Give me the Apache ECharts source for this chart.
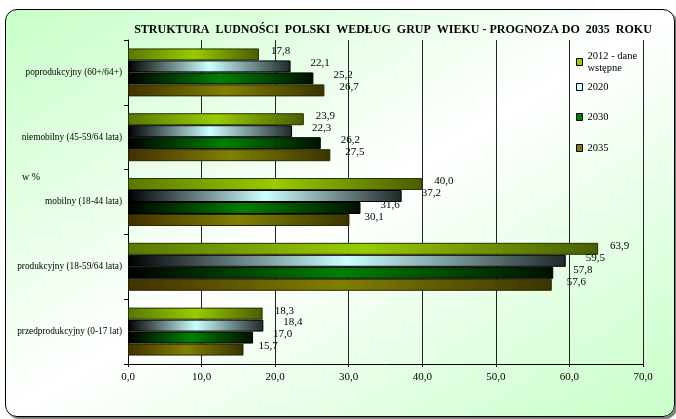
<!DOCTYPE html>
<html>
<head>
<meta charset="utf-8">
<script src="https://cdn.jsdelivr.net/npm/echarts@6/dist/echarts.min.js"></script>
<style>
html,body{margin:0;padding:0;background:#fff;}
#frame{position:absolute;left:5px;top:9px;width:668px;height:406px;border:1.5px solid #000;border-radius:12px;
background:linear-gradient(to bottom right,#c8ffc8 0%,#ffffff 50%,#c8ffc8 100%);box-shadow:2px 2px 1px #777;}
#chart{position:absolute;left:0;top:0;width:676px;height:419px;}
</style>
</head>
<body>
<div id="frame"></div>
<div id="chart"></div>
<script>
const categories = ['poprodukcyjny (60+/64+)', 'niemobilny (45-59/64 lata)', 'mobilny (18-44 lata)', 'produkcyjny (18-59/64 lata)', 'przedprodukcyjny (0-17 lat)'];
const seriesNames = ['2012 - dane\nwstępne', '2020', '2030', '2035'];
const v2012 = [17.8, 23.9, 40.0, 63.9, 18.3];
const v2020 = [22.1, 22.3, 37.2, 59.5, 18.4];
const v2030 = [25.2, 26.2, 31.6, 57.8, 17.0];
const v2035 = [26.7, 27.5, 30.1, 57.6, 15.7];
const xTicks = [0, 10, 20, 30, 40, 50, 60, 70];

const serif = '"Liberation Serif", "DejaVu Serif", serif';
function grad(a, b, c) {
  return {type:'linear', x:0, y:0, x2:1, y2:0, colorStops:[{offset:0,color:a},{offset:0.5,color:b},{offset:1,color:c}]};
}
const styles = [
  {fill: grad('#587800', '#99cc00', '#4a5c00'), border:'#2a3300', legend:'#99cc00', dist:12, legendTop:50},
  {fill: grad('#000000', '#ccffff', '#202828'), border:'#000000', legend:'#ccffff', dist:20, legendTop:81},
  {fill: grad('#000000', '#008000', '#001000'), border:'#000000', legend:'#008000', dist:20, legendTop:111},
  {fill: grad('#403000', '#808000', '#3a3400'), border:'#2a2400', legend:'#808000', dist:15, legendTop:142}
];
const values = [v2012, v2020, v2030, v2035];

const chart = echarts.init(document.getElementById('chart'), null, {renderer:'canvas'});
chart.setOption({
  backgroundColor: 'transparent',
  animation: false,
  title: {
    text: 'STRUKTURA  LUDNOŚCI  POLSKI  WEDŁUG  GRUP  WIEKU - PROGNOZA DO  2035  ROKU',
    left: 388, top: 19, textAlign: 'center',
    textStyle: {fontFamily: serif, fontWeight: 'bold', fontSize: 12, color: '#000'}
  },
  legend: seriesNames.map((n, i) => ({
    orient: 'vertical', left: 576, top: styles[i].legendTop, padding: 0,
    icon: 'rect', itemWidth: 6, itemHeight: 7, itemGap: 0,
    textStyle: {fontFamily: serif, fontSize: 10.5, color: '#000', lineHeight: 12},
    data: [{name: n, itemStyle: {color: styles[i].legend, borderColor: '#000', borderWidth: 1}}]
  })),
  grid: {left: 128, right: 33, top: 40, bottom: 55, containLabel: false},
  xAxis: {
    type: 'value', min: 0, max: 70, interval: 10,
    axisLine: {show: true, lineStyle: {color: '#000', width: 1}},
    axisTick: {show: true, length: 3, lineStyle: {color: '#000'}},
    splitLine: {show: true, lineStyle: {color: '#222', width: 1}},
    axisLabel: {fontFamily: serif, fontSize: 11, color: '#000', margin: 8,
      formatter: v => xTicks.includes(v) ? v.toFixed(1).replace('.', ',') : ''}
  },
  yAxis: {
    type: 'category', inverse: true, data: categories,
    axisLine: {show: true, lineStyle: {color: '#000', width: 1}},
    axisTick: {show: true, length: 4, lineStyle: {color: '#000'}},
    axisLabel: {fontFamily: serif, fontSize: 9.3, color: '#000', margin: 6}
  },
  graphic: [
    {type: 'text', left: 22, top: 172, style: {text: 'w %', font: '10px ' + serif, fill: '#000'}}
  ],
  series: seriesNames.map((n, i) => ({
    name: n, type: 'bar', data: values[i],
    barGap: '0%', barCategoryGap: '26%',
    itemStyle: {color: styles[i].fill, borderColor: styles[i].border, borderWidth: 1},
    label: {show: true, position: 'right', distance: styles[i].dist, offset: [0, -3],
      fontFamily: serif, fontSize: 11, color: '#000',
      formatter: p => p.value.toFixed(1).replace('.', ',')}
  }))
});
</script>
</body>
</html>
